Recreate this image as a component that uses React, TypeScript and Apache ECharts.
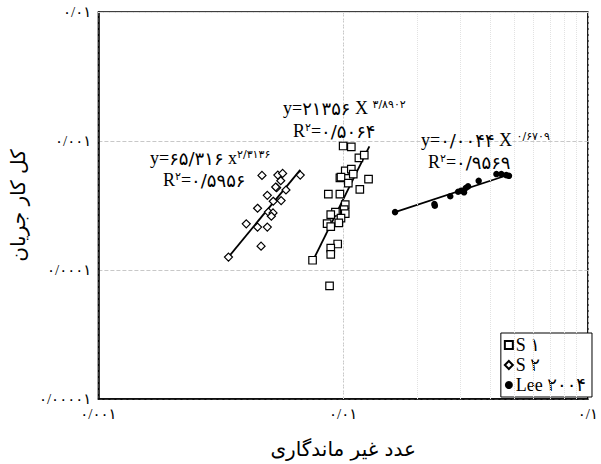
import React, { useEffect, useRef } from "react";
import * as echarts from "echarts";

// ---- data (log-log axes) ----
const s1Points: [number, number][] = [
  [0.0100, 9.15e-4], [0.0108, 8.99e-4], [0.0116, 7.39e-4], [0.0122, 7.76e-4],
  [0.0102, 5.87e-4], [0.0108, 6.05e-4], [0.0097, 5.18e-4], [0.0098, 5.25e-4],
  [0.0110, 5.54e-4], [0.0127, 5.07e-4], [0.0105, 4.72e-4], [0.0117, 4.22e-4],
  [0.0087, 3.88e-4], [0.0097, 3.88e-4], [0.0102, 3.21e-4], [0.0101, 2.94e-4],
  [0.0093, 2.81e-4], [0.0089, 2.69e-4], [0.0102, 2.74e-4], [0.0098, 2.52e-4],
  [0.0096, 2.32e-4], [0.0086, 2.29e-4], [0.0089, 2.17e-4], [0.0095, 1.59e-4],
  [0.0089, 1.48e-4], [0.0089, 1.32e-4], [0.0075, 1.19e-4], [0.0088, 7.54e-5],
];
const s2Points: [number, number][] = [
  [3.40e-3, 1.26e-4], [4.66e-3, 5.41e-4], [5.41e-3, 5.44e-4], [5.66e-3, 5.61e-4],
  [5.56e-3, 4.92e-4], [5.35e-3, 4.34e-4], [5.30e-3, 4.40e-4], [5.84e-3, 4.17e-4],
  [4.90e-3, 3.79e-4], [5.18e-3, 3.41e-4], [5.58e-3, 3.45e-4], [4.47e-3, 3.01e-4],
  [4.95e-3, 2.81e-4], [5.17e-3, 2.77e-4], [5.09e-3, 2.61e-4], [4.02e-3, 2.28e-4],
  [4.47e-3, 2.15e-4], [4.90e-3, 2.15e-4], [4.62e-3, 1.53e-4], [6.68e-3, 5.44e-4],
];
const leePoints: [number, number][] = [
  [0.0163, 2.81e-4], [0.0236, 3.25e-4], [0.0237, 3.15e-4], [0.0274, 3.73e-4],
  [0.0295, 4.04e-4], [0.0304, 4.12e-4], [0.0317, 4.32e-4], [0.0324, 4.45e-4],
  [0.0312, 4.00e-4], [0.0358, 4.91e-4], [0.0423, 5.54e-4], [0.0443, 5.54e-4],
  [0.0464, 5.44e-4], [0.0476, 5.37e-4],
];
// trend line end points
const s1Trend: [number, number][] = [[0.00754, 1.19e-4], [0.0128, 9.1e-4]];
const s2Trend: [number, number][] = [[0.0034, 1.26e-4], [0.00668, 5.98e-4]];
const leeTrend: [number, number][] = [[0.0163, 2.81e-4], [0.0478, 5.5e-4]];

const seriesNames = ["S ۱", "S ۲", "Lee ۲۰۰۴"];
const xAxisName = "عدد غیر ماندگاری";
const yAxisName = "کل کار جریان";

const minorX = [0.002, 0.003, 0.004, 0.005, 0.006, 0.007, 0.008, 0.009,
  0.02, 0.03, 0.04, 0.05, 0.06, 0.07, 0.08, 0.09];
const minorY = [0.00002, 0.00003, 0.00004, 0.00005, 0.00006, 0.00007, 0.00008, 0.00009,
  0.0002, 0.0003, 0.0004, 0.0005, 0.0006, 0.0007, 0.0008, 0.0009,
  0.002, 0.003, 0.004, 0.005, 0.006, 0.007, 0.008, 0.009];

// equation labels
const eqS2 = { coef: "۶۵/۳۱۶", x: " x", exp: "۲/۳۱۳۶", r2: "۰/۵۹۵۶" };
const eqS1 = { coef: "۲۱۳۵۶", x: " X ", exp: "۳/۸۹۰۲", r2: "۰/۵۰۶۴" };
const eqLee = { coef: "۰/۰۰۴۴", x: " X ", exp: "۰/۶۷۰۹", r2: "۰/۹۵۶۹" };

const FA = "۰۱۲۳۴۵۶۷۸۹";
const toFa = (s: string) => s.replace(/[0-9]/g, (d) => FA[+d]).replace(/\./g, "/");
const fmt = (v: number) => toFa(String(Number(v.toPrecision(6))));

const SERIF = "'Liberation Serif', 'DejaVu Sans', serif";
const ARAB = "'DejaVu Sans', sans-serif";

function eqText(x: number, y: number, xr: number, yr: number, e: { coef: string; x: string; exp: string; r2: string }) {
  const rich = {
    l: { fontSize: 18, fontFamily: SERIF, fill: "#000", color: "#000" },
    d: { fontSize: 18, fontFamily: ARAB, fill: "#000", color: "#000" },
    s: { fontSize: 11, fontFamily: ARAB, fill: "#000", color: "#000", verticalAlign: "top" },
  };
  return [
    {
      type: "text", x, y, z: 10,
      style: {
        text: `{l|y=}{d|${e.coef}}{l|${e.x}}{s|${e.exp}}`, rich,
        align: "left", textAlign: "left", verticalAlign: "middle", textVerticalAlign: "middle",
      },
    },
    {
      type: "text", x: xr, y: yr, z: 10,
      style: {
        text: `{l|R}{s|۲}{l|=}{d|${e.r2}}`, rich,
        align: "left", textAlign: "left", verticalAlign: "middle", textVerticalAlign: "middle",
      },
    },
  ];
}

export default function App() {
  const ref = useRef<HTMLDivElement>(null);
  useEffect(() => {
    if (!ref.current) return;
    const chart = echarts.init(ref.current, undefined, { renderer: "svg" });
    const axisLabelStyle = { color: "#000", fontSize: 15, fontFamily: SERIF };
    const trendStyle = { color: "#000", width: 1.8 };
    chart.setOption({
      animation: false,
      backgroundColor: "#fff",
      grid: { left: 95, right: 4, top: 12, bottom: 63, show: true, borderColor: "#000", borderWidth: 1.5 },
      xAxis: {
        type: "log", logBase: 10, min: 0.001, max: 0.1,
        name: xAxisName, nameLocation: "middle", nameGap: 40,
        nameTextStyle: { color: "#000", fontSize: 20, fontFamily: ARAB },
        axisLine: { show: true, lineStyle: { color: "#000", width: 1.5 } },
        axisTick: { show: false },
        axisLabel: { ...axisLabelStyle, margin: 7, formatter: (v: number) => fmt(v) },
        splitLine: { show: true, lineStyle: { color: "#c8c8c8", type: "dashed", width: 1 } },
      },
      yAxis: {
        type: "log", logBase: 10, min: 0.00001, max: 0.01,
        name: yAxisName, nameLocation: "middle", nameGap: 62, nameRotate: 90,
        nameTextStyle: { color: "#000", fontSize: 20, fontFamily: ARAB },
        axisLine: { show: true, lineStyle: { color: "#000", width: 1.5 } },
        axisTick: { show: false },
        axisLabel: { ...axisLabelStyle, margin: 7, formatter: (v: number) => fmt(v) },
        splitLine: { show: true, lineStyle: { color: "#c8c8c8", type: "dashed", width: 1 } },
      },
      legend: {
        orient: "vertical", right: 9, bottom: 67,
        data: [
          { name: seriesNames[0], icon: "rect" },
          { name: seriesNames[1], icon: "diamond" },
          { name: seriesNames[2], icon: "circle" },
        ],
        itemWidth: 8, itemHeight: 8, itemGap: 2,
        padding: [3, 6, 3, 3],
        borderColor: "#000", borderWidth: 1, backgroundColor: "#fff",
        selectedMode: false,
        textStyle: { color: "#000", fontSize: 18, fontFamily: SERIF, padding: [0, 0, 0, -2] },
      },
      series: [
        {
          type: "line", name: "minor", data: [], silent: true, z: 1,
          markLine: {
            silent: true, symbol: "none", label: { show: false },
            lineStyle: { color: "#e2e2e2", type: "dotted", width: 1 },
            data: [
              ...minorX.map((v) => ({ xAxis: v })),
              ...minorY.map((v) => ({ yAxis: v })),
            ],
          },
        },
        {
          type: "scatter", name: seriesNames[0], data: s1Points, symbol: "rect", symbolSize: 7.5, z: 5,
          itemStyle: { color: "#fff", borderColor: "#000", borderWidth: 1.2, opacity: 1 },
        },
        {
          type: "scatter", name: seriesNames[1], data: s2Points, symbol: "diamond", symbolSize: 8, z: 5,
          itemStyle: { color: "#fff", borderColor: "#000", borderWidth: 1.2, opacity: 1 },
        },
        {
          type: "scatter", name: seriesNames[2], data: leePoints, symbol: "circle", symbolSize: 6.5, z: 5,
          itemStyle: { color: "#000", borderColor: "#000", borderWidth: 0, opacity: 1 },
        },
        { type: "line", name: "t1", data: s1Trend, showSymbol: false, symbol: "none", lineStyle: trendStyle, z: 4 },
        { type: "line", name: "t2", data: s2Trend, showSymbol: false, symbol: "none", lineStyle: trendStyle, z: 4 },
        { type: "line", name: "t3", data: leeTrend, showSymbol: false, symbol: "none", lineStyle: trendStyle, z: 4 },
      ],
      graphic: [
        ...eqText(150, 158, 163, 180, eqS2),
        ...eqText(283, 108, 293, 131, eqS1),
        ...eqText(421, 140, 428, 162, eqLee),
      ],
    });
    return () => chart.dispose();
  }, []);
  return <div ref={ref} style={{ position: "absolute", left: 0, top: 0, width: 601, height: 464 }} />;
}
